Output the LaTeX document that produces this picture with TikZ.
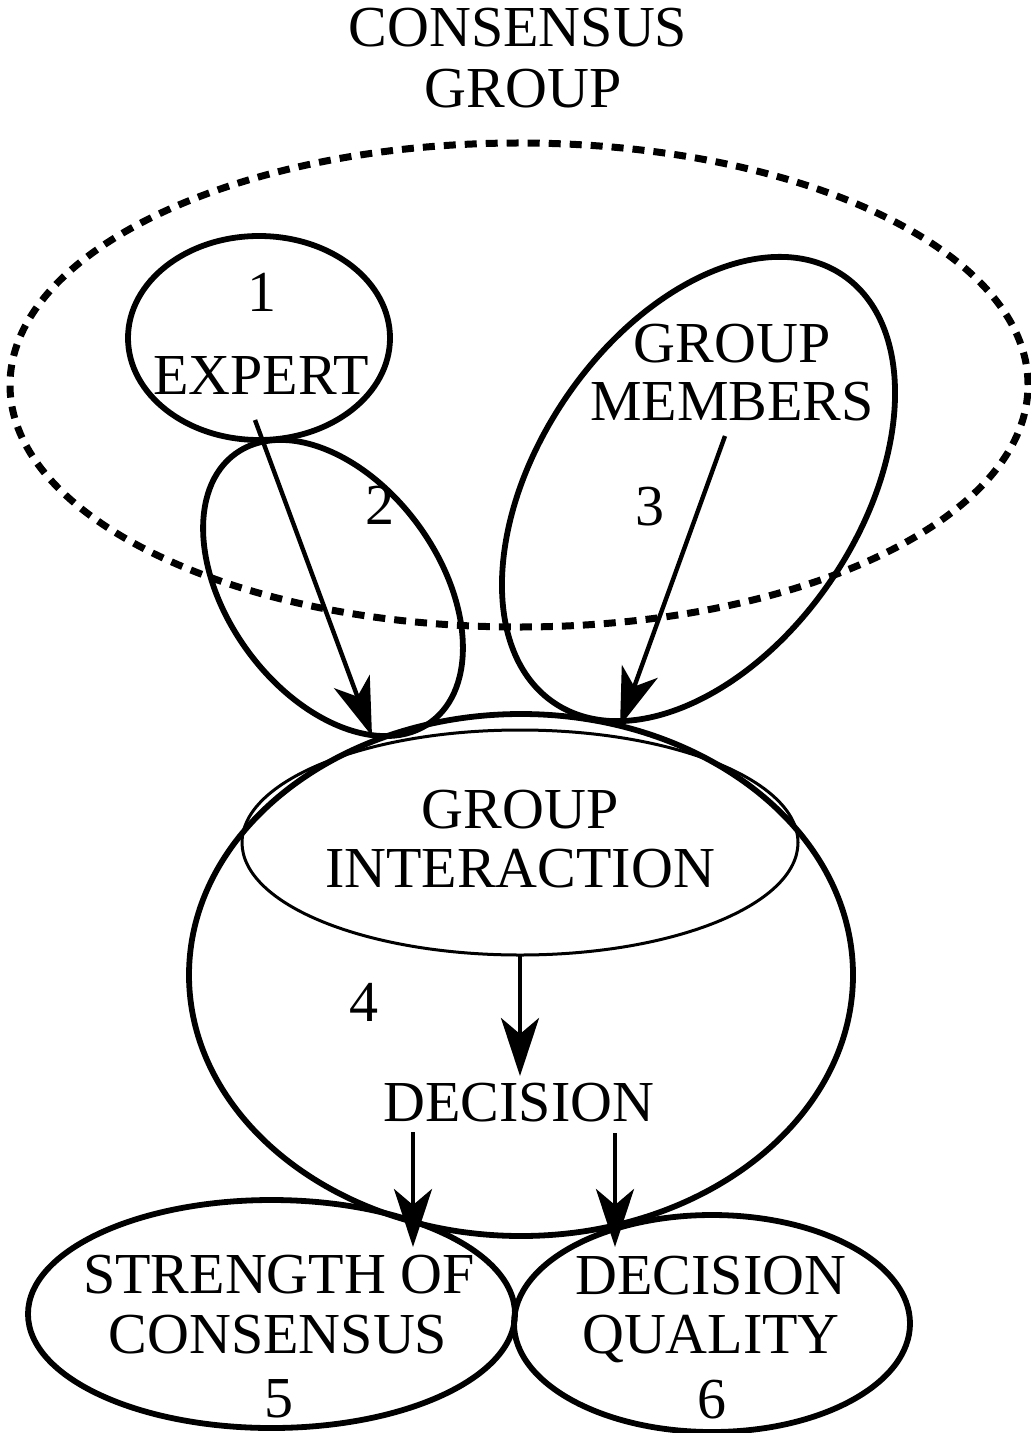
\documentclass[tikz,border=0pt]{standalone}
\usepackage{fontspec}
\setmainfont{Liberation Serif}
\usetikzlibrary{shapes.geometric,arrows.meta}
\begin{document}
\begin{tikzpicture}[x=0.5pt,y=-0.5pt,
  lbl/.style={anchor=base,inner sep=0pt,font=\fontsize{29}{30}\selectfont},
  radii/.style 2 args={minimum width=#1pt,minimum height=#2pt},
  oval/.style={ellipse,draw,line width=2.9pt,inner sep=0pt,outer sep=0pt},
  thinoval/.style={ellipse,draw,line width=1.5pt,inner sep=0pt,outer sep=0pt},
  groupoval/.style={ellipse,draw,line width=3.5pt,dash pattern=on 6pt off 4.5pt,inner sep=0pt,outer sep=0pt},
  flow/.style={line width=2.2pt,-{Stealth[length=29pt,width=19pt,inset=8pt]}}]
\useasboundingbox (0,0) rectangle (1031,1433);

% title
\node[lbl] (t1) at (518,47) {CONSENSUS};
\node[lbl] (t2) at (523,108) {GROUP};

% the consensus group
\node[groupoval,radii={509}{242}] (cg) at (519,385) {};

% 1: expert
\node[oval,radii={131}{102}] (e1) at (259,338) {};
\node[lbl] (n1) at (262,312) {1};
\node[lbl] (expert) at (261,394) {EXPERT};

% 2
\node[oval,radii={106}{166},rotate=36] (e2) at (333,588) {};
\node[lbl] (n2) at (380,524) {2};

% 3: group members
\node[oval,radii={161}{258},rotate=-34] (e3) at (698.5,489) {};
\node[lbl] (gm1) at (732,363) {GROUP};
\node[lbl] (gm2) at (732,420) {MEMBERS};
\node[lbl] (n3) at (650,525) {3};

% 4: interaction and decision
\node[oval,radii={332}{261}] (e4) at (521,975) {};
\node[thinoval,radii={278}{112.5}] (gi) at (520,842.5) {};
\node[lbl] (gi1) at (520,828) {GROUP};
\node[lbl] (gi2) at (520,887) {INTERACTION};
\node[lbl] (n4) at (364,1021) {4};
\node[lbl] (dec) at (519,1121) {DECISION};

% 5: strength of consensus
\node[oval,radii={243.5}{114}] (e5) at (271.5,1314) {};
\node[lbl] (s1) at (279,1293) {STRENGTH OF};
\node[lbl] (s2) at (278,1353) {CONSENSUS};
\node[lbl] (n5) at (279,1417) {5};

% 6: decision quality
\node[oval,radii={198}{108.5}] (e6) at (712,1323.5) {};
\node[lbl] (q1) at (711,1294) {DECISION};
\node[lbl] (q2) at (711,1353) {QUALITY};
\node[lbl] (n6) at (711.5,1418) {6};

% arrow ends
\coordinate (a1s) at (255,420);
\coordinate (a1e) at (372,736);
\coordinate (a3s) at (725,436);
\coordinate (a3e) at (620,726);
\coordinate (a4e) at (520,1076);
\coordinate (a5s) at (413,1132);
\coordinate (a5e) at (413,1247);
\coordinate (a6s) at (615,1133);
\coordinate (a6e) at (615,1247);

\draw[flow] (a1s) -- (a1e);
\draw[flow] (a3s) -- (a3e);
\draw[flow] (gi.south) -- (a4e);
\draw[flow] (a5s) -- (a5e);
\draw[flow] (a6s) -- (a6e);
\end{tikzpicture}
\end{document}
